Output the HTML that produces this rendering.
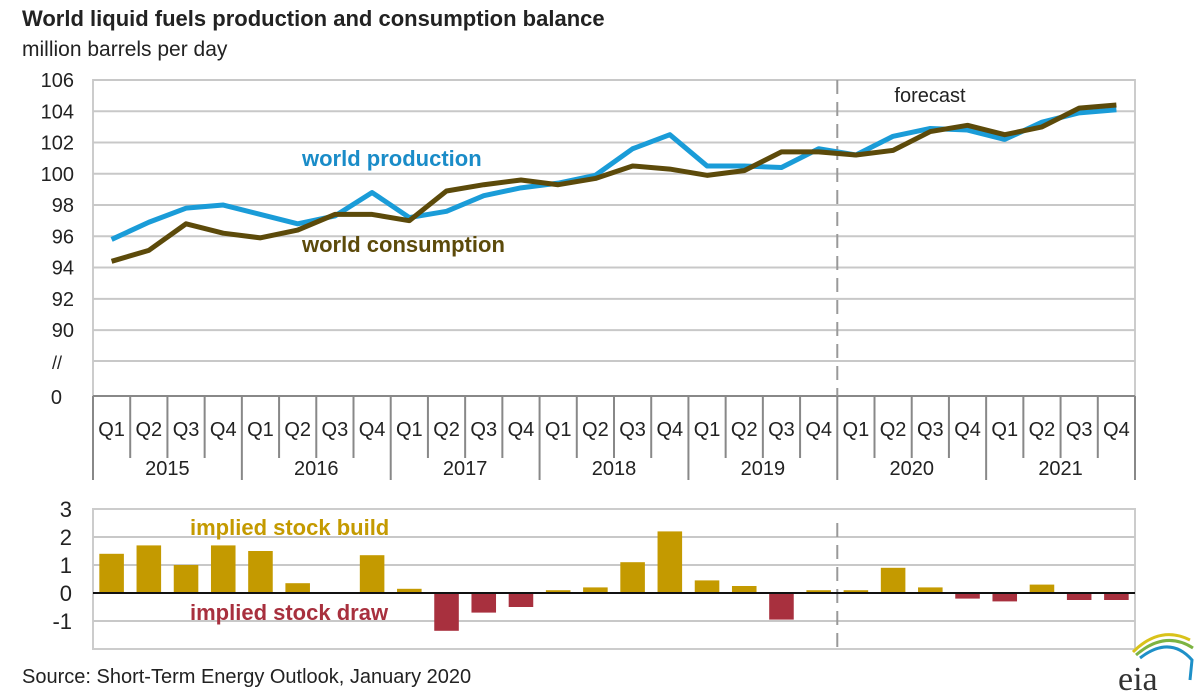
<!DOCTYPE html>
<html><head><meta charset="utf-8"><style>
body{margin:0;background:#fff;}
svg{display:block;font-family:"Liberation Sans",Arial,sans-serif;}
</style></head><body>
<svg id="chart" width="1200" height="700">
<text x="22" y="26" font-size="22" font-weight="bold" fill="#222">World liquid fuels production and consumption balance</text>
<text x="22" y="56" font-size="21" fill="#222">million barrels per day</text>
<g id="topg"></g>
<g id="botg"></g>
<text x="22" y="683" font-size="20" fill="#222">Source: Short-Term Energy Outlook, January 2020</text>
<g>
<path d="M1133 652 Q1160 625 1190 640" stroke="#d9c21a" stroke-width="3" fill="none"/>
<path d="M1136 655 Q1165 630 1193 648" stroke="#7cb342" stroke-width="3" fill="none"/>
<path d="M1140 658 Q1170 635 1192 660 L1190 680" stroke="#1e90c8" stroke-width="3" fill="none"/>
<text x="1118" y="690" font-size="34" font-family="Liberation Serif,serif" fill="#333">eia</text>
</g>
</svg>
<script>
const years=["2015","2016","2017","2018","2019","2020","2021"];
const quarters=["Q1","Q2","Q3","Q4"];
const yTicks=[106,104,102,100,98,96,94,92,90];
const production=[95.8,96.9,97.8,98.0,97.4,96.8,97.3,98.8,97.2,97.6,98.6,99.1,99.4,99.9,101.6,102.5,100.5,100.5,100.4,101.6,101.2,102.4,102.9,102.8,102.2,103.3,103.9,104.1];
const consumption=[94.4,95.1,96.8,96.2,95.9,96.4,97.4,97.4,97.0,98.9,99.3,99.6,99.3,99.7,100.5,100.3,99.9,100.2,101.4,101.4,101.2,101.5,102.7,103.1,102.5,103.0,104.2,104.4];
const stockChange=[1.4,1.7,1.0,1.7,1.5,0.35,0,1.35,0.15,-1.35,-0.7,-0.5,0.1,0.2,1.1,2.2,0.45,0.25,-0.95,0.1,0.1,0.9,0.2,-0.2,-0.3,0.3,-0.25,-0.25];
const bTicks=[3,2,1,0,-1];
const forecastStart=20;
const NS="http://www.w3.org/2000/svg";
const L=93,R=1135,N=production.length,W=(R-L)/N;
const xc=i=>L+W*(i+0.5);
const xe=i=>L+W*i;
const yT=v=>80+(106-v)*15.63;
const yB=v=>593-v*28;
function mk(tag,attrs,parent,txt){const e=document.createElementNS(NS,tag);for(const k in attrs)e.setAttribute(k,attrs[k]);if(txt!==undefined)e.textContent=txt;parent.appendChild(e);return e;}
const topG=document.getElementById('topg'),botG=document.getElementById('botg');
let r=mk('rect',{x:L,y:80,width:R-L,height:316,fill:'none',stroke:'#ccc','stroke-width':2},topG);


yTicks.forEach(v=>{
 let g=mk('line',{x1:L,x2:R,y1:yT(v),y2:yT(v),stroke:'#c8c8c8','stroke-width':2},topG);
 
 
 let t=mk('text',{x:74,y:yT(v)+7,'font-size':20,'text-anchor':'end',fill:'#222'},topG,String(v));
 
 
});
let g2=mk('line',{x1:L,x2:R,y1:361,y2:361,stroke:'#c8c8c8','stroke-width':2},topG);


let br=mk('text',{x:62,y:369,'font-size':18,'text-anchor':'end',fill:'#222'},topG,'//');


let z=mk('text',{x:62,y:404,'font-size':20,'text-anchor':'end',fill:'#222'},topG,'0');


let ax=mk('line',{x1:L,x2:R,y1:396,y2:396,stroke:'#888','stroke-width':2},topG);


for(let i=0;i<=N;i++){
 const yr=i%4===0;
 let l=mk('line',{x1:xe(i),x2:xe(i),y1:396,y2:yr?480:458,stroke:'#888','stroke-width':2},topG);
 
 
 if(i<N){
  let t=mk('text',{x:xc(i),y:436,'font-size':20,'text-anchor':'middle',fill:'#222'},topG,quarters[i%4]);
  
  
 }
}
years.forEach((y,k)=>{
 let t=mk('text',{x:(xe(k*4)+xe(k*4+4))/2,y:475,'font-size':20,'text-anchor':'middle',fill:'#222'},topG,y);
 
 
});
let d=mk('line',{x1:xe(forecastStart),x2:xe(forecastStart),y1:80,y2:396,stroke:'#999','stroke-width':2,'stroke-dasharray':'14,8'},topG);


let ft=mk('text',{x:930,y:102,'font-size':20,'text-anchor':'middle',fill:'#222'},topG,'forecast');


let pp=mk('polyline',{points:production.map((v,i)=>xc(i)+','+yT(v)).join(' '),fill:'none',stroke:'#1a9cd8','stroke-width':5,'stroke-linejoin':'round'},topG);


let cp=mk('polyline',{points:consumption.map((v,i)=>xc(i)+','+yT(v)).join(' '),fill:'none',stroke:'#5c4a0a','stroke-width':5,'stroke-linejoin':'round'},topG);


let pl=mk('text',{x:302,y:166,'font-size':22,'font-weight':'bold',fill:'#1a8cc8'},topG,'world production');


let cl=mk('text',{x:302,y:252,'font-size':22,'font-weight':'bold',fill:'#5c4a0a'},topG,'world consumption');


let rb=mk('rect',{x:L,y:yB(3),width:R-L,height:yB(-2)-yB(3),fill:'none',stroke:'#ccc','stroke-width':2},botG);


bTicks.forEach(v=>{
 if(v!==0&&v!==3){let g=mk('line',{x1:L,x2:R,y1:yB(v),y2:yB(v),stroke:'#c8c8c8','stroke-width':2},botG);
 
 }
 let t=mk('text',{x:72,y:yB(v)+8,'font-size':22,'text-anchor':'end',fill:'#222'},botG,String(v));
 
 
});
let db=mk('line',{x1:xe(forecastStart),x2:xe(forecastStart),y1:yB(2.5),y2:yB(-2),stroke:'#999','stroke-width':2,'stroke-dasharray':'14,8'},botG);


stockChange.forEach((v,i)=>{
 const bw=W*0.66;
 let b=mk('rect',{x:xc(i)-bw/2,y:Math.min(yB(v),yB(0)),width:bw,height:Math.abs(yB(v)-yB(0)),fill:v>=0?'#c49a00':'#a8303e'},botG);
 
 
});
let zl=mk('line',{x1:L,x2:R,y1:yB(0),y2:yB(0),stroke:'#111','stroke-width':2},botG);


let bl=mk('text',{x:190,y:535,'font-size':22,'font-weight':'bold',fill:'#c49a00'},botG,'implied stock  build');


let dl=mk('text',{x:190,y:620,'font-size':22,'font-weight':'bold',fill:'#a8303e'},botG,'implied stock draw');


</script>
</body></html>
